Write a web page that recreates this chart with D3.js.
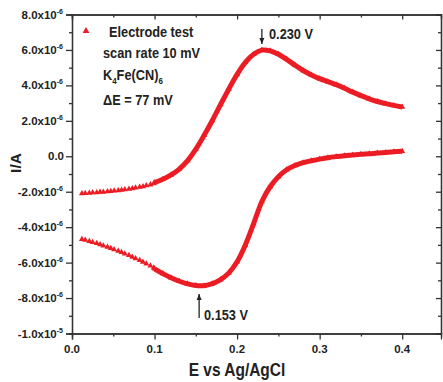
<!DOCTYPE html>
<html>
<head>
<meta charset="utf-8">
<script src="https://cdn.jsdelivr.net/npm/d3@7"></script>
<style>
  body { margin: 0; background: #fff; }
  svg { display: block; font-family: "Liberation Sans", Arial, sans-serif; font-weight: bold; }
  .axis path, .axis line { stroke: #333; stroke-width: 1.3; }
</style>
</head>
<body>
<svg width="443" height="382"></svg>
<script>
// potential (V) and current (µA)
const sparseE = [0.012, 0.016, 0.021, 0.025, 0.030, 0.034, 0.038, 0.043, 0.047, 0.051, 0.056,
    0.060, 0.064, 0.069, 0.073, 0.077, 0.082, 0.086, 0.090, 0.095, 0.099];
const sparseUp = [-2.10, -2.08, -2.07, -2.05, -2.04, -2.02, -2.01, -1.99, -1.97, -1.95, -1.93,
    -1.90, -1.88, -1.85, -1.82, -1.78, -1.74, -1.70, -1.65, -1.60, -1.54];
const sparseDown = [-4.68, -4.73, -4.79, -4.85, -4.91, -4.98, -5.05, -5.12, -5.19, -5.26, -5.34,
    -5.42, -5.50, -5.59, -5.68, -5.77, -5.87, -5.97, -6.07, -6.18, -6.29];

const denseE = [0.10, 0.11, 0.12, 0.13, 0.14, 0.15, 0.16, 0.17, 0.18, 0.19, 0.20, 0.21, 0.22, 0.23,
    0.24, 0.25, 0.26, 0.27, 0.28, 0.29, 0.30, 0.31, 0.32, 0.33, 0.34, 0.35, 0.36, 0.37, 0.38, 0.39, 0.40];
const denseUp = [-1.48, -1.30, -1.05, -0.72, -0.25, 0.40, 1.18, 2.02, 2.92, 3.80, 4.62, 5.30, 5.76, 5.99,
    5.95, 5.76, 5.47, 5.14, 4.84, 4.59, 4.38, 4.21, 4.04, 3.84, 3.62, 3.42, 3.24, 3.09, 2.97, 2.87, 2.78];
const denseDown = [-6.35, -6.62, -6.85, -7.05, -7.20, -7.29, -7.30, -7.19, -6.96, -6.58, -5.95, -5.00, -3.80, -2.55,
    -1.72, -1.15, -0.76, -0.52, -0.36, -0.25, -0.16, -0.08, -0.02, 0.03, 0.07, 0.11, 0.14, 0.18, 0.21, 0.25, 0.29];

const xTicks = [0, 0.1, 0.2, 0.3, 0.4];
const xMinor = [0.05, 0.15, 0.25, 0.35];
const yTicks = [8, 6, 4, 2, 0, -2, -4, -6, -8, -10];
const yLabels = [['8.0x10', '-6'], ['6.0x10', '-6'], ['4.0x10', '-6'], ['2.0x10', '-6'], ['0.0', ''],
    ['-2.0x10', '-6'], ['-4.0x10', '-6'], ['-6.0x10', '-6'], ['-8.0x10', '-6'], ['-1.0x10', '-5']];
const yMinor = [7, 5, 3, 1, -1, -3, -5, -7, -9];

const red = '#ec1c24';
const svg = d3.select('svg');

const x = d3.scaleLinear().domain([0, 0.447]).range([72, 441]);
const y = d3.scaleLinear().domain([-10, 8]).range([333.5, 14.5]);

const toPts = (es, is) => es.map((e, i) => ({ e: e, i: is[i] }));
const upAll = toPts(sparseE, sparseUp).concat(toPts(denseE, denseUp));
const downAll = toPts(sparseE, sparseDown).concat(toPts(denseE, denseDown));

// axes
const ax = (g, axis) => svg.append('g').attr('class', 'axis').attr('transform', g).call(axis);
ax('translate(0,333.5)', d3.axisBottom(x).tickValues(xTicks).tickSize(6).tickFormat(''));
ax('translate(0,333.5)', d3.axisBottom(x).tickValues(xMinor).tickSize(3).tickFormat(''));
ax('translate(0,14.5)', d3.axisTop(x).tickValues(xTicks).tickSize(-5).tickFormat(''));
ax('translate(0,14.5)', d3.axisTop(x).tickValues(xMinor).tickSize(-3).tickFormat(''));
ax('translate(72,0)', d3.axisLeft(y).tickValues(yTicks).tickSize(6).tickFormat(''));
ax('translate(72,0)', d3.axisLeft(y).tickValues(yMinor).tickSize(3).tickFormat(''));
ax('translate(441,0)', d3.axisRight(y).tickValues(yTicks).tickSize(-5).tickFormat(''));
ax('translate(441,0)', d3.axisRight(y).tickValues(yMinor).tickSize(-3).tickFormat(''));
svg.selectAll('.axis .domain').attr('stroke-width', 1.5);

// tick labels
svg.append('g').selectAll('text').data(xTicks).join('text')
    .attr('x', d => x(d)).attr('y', 353)
    .attr('text-anchor', 'middle').attr('font-size', 11.5).attr('fill', '#222')
    .text(d => d.toFixed(1));

const yl = svg.append('g').selectAll('text').data(yTicks).join('text')
    .attr('x', (d, i) => yLabels[i][1] ? 63 : 64).attr('y', d => y(d) + 4)
    .attr('text-anchor', 'end').attr('font-size', 11.5).attr('fill', '#222');
yl.append('tspan').text((d, i) => yLabels[i][0]);
yl.append('tspan').attr('font-size', 7).attr('dy', -5).text((d, i) => yLabels[i][1]);

// axis titles
svg.append('text')
    .attr('transform', 'translate(237,376) scale(0.86,1)')
    .attr('text-anchor', 'middle').attr('font-size', 18).attr('fill', '#222')
    .text('E vs Ag/AgCl');
svg.append('text')
    .attr('transform', 'translate(21,163) rotate(-90)')
    .attr('text-anchor', 'middle').attr('font-size', 15.5).attr('fill', '#222')
    .text('I/A');

// curves: dense part drawn thick, triangles on every read point
const line = d3.line().x(d => x(d.e)).y(d => y(d.i)).curve(d3.curveCatmullRom);
const plot = svg.append('g');
[toPts(denseE, denseUp), toPts(denseE, denseDown)].forEach(pts => {
    plot.append('path').datum(pts).attr('d', line)
        .attr('fill', 'none').attr('stroke', red).attr('stroke-width', 5);
});
const tri = d3.symbol().type(d3.symbolTriangle).size(16);
plot.selectAll('path.pt').data(upAll.concat(downAll)).join('path')
    .attr('class', 'pt')
    .attr('transform', d => `translate(${x(d.e)},${y(d.i)})`)
    .attr('d', tri).attr('fill', red);

// legend block
svg.append('path').attr('transform', 'translate(86,31)')
    .attr('d', d3.symbol().type(d3.symbolTriangle).size(20)).attr('fill', red);
const note = (tx, ty) => svg.append('text')
    .attr('transform', `translate(${tx},${ty}) scale(0.88,1)`)
    .attr('font-size', 14.5).attr('fill', '#222');
note(109, 36.5).text('Electrode test');
note(103, 58).text('scan rate 10 mV');
const k = note(103, 80);
k.append('tspan').text('K');
k.append('tspan').attr('font-size', 9).attr('dy', 4).text('4');
k.append('tspan').attr('dy', -4).text('Fe(CN)');
k.append('tspan').attr('font-size', 9).attr('dy', 4).text('6');
note(103, 105).text('\u0394E = 77 mV');

// peak annotations
const arrow = (ax0, y0, y1) => {
    const dir = Math.sign(y1 - y0);
    svg.append('line').attr('x1', ax0).attr('x2', ax0).attr('y1', y0).attr('y2', y1)
        .attr('stroke', '#222').attr('stroke-width', 1.3);
    svg.append('path')
        .attr('d', `M${ax0 - 2.5},${y1 - dir * 6}L${ax0 + 2.5},${y1 - dir * 6}L${ax0},${y1}Z`)
        .attr('fill', '#222');
};
arrow(x(0.230), 29, 44);
note(269, 39).text('0.230 V');
arrow(x(0.154), 318, 294);
note(204, 320).text('0.153 V');
</script>
</body>
</html>
